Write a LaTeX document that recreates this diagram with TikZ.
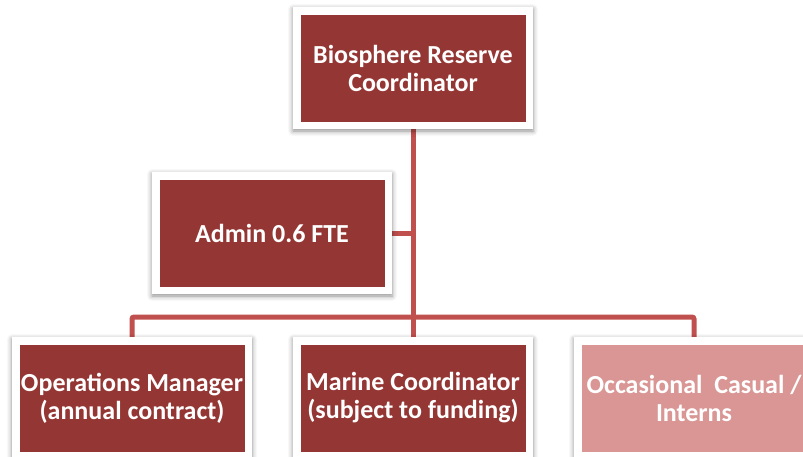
\documentclass[tikz,border=0pt]{standalone}
\usepackage{fontspec}
\setmainfont{Carlito}
\usetikzlibrary{backgrounds,shadows.blur}

\definecolor{brick}{HTML}{943634}
\definecolor{rose}{HTML}{D99694}
\definecolor{linkred}{HTML}{C0504D}

\tikzset{
  unit/.style={fill=white, minimum width=240pt, minimum height=122pt, inner sep=0pt,
    align=center, text=white, font=\fontsize{26}{28}\selectfont\bfseries,
    blur shadow={shadow xshift=0pt, shadow yshift=-2pt, shadow blur radius=5pt, shadow opacity=45},
    path picture={\fill[#1] ([shift={(7.5pt,7.5pt)}]path picture bounding box.south west)
      rectangle ([shift={(-7.5pt,-7.5pt)}]path picture bounding box.north east);}},
  unit/.default=brick,
  link/.style={linkred, line width=5pt, rounded corners=2pt}
}

\begin{document}
\begin{tikzpicture}[x=1pt,y=-1pt]
\useasboundingbox (0,0) rectangle (803,456);

%coordinator
\node[unit] (coord) at (413,68) {Biosphere Reserve\\Coordinator};
%admin
\node[unit] (admin) at (272,233) {Admin 0.6 FTE};
%staff row
\node[unit] (ops) at (132,398) {Operations Manager\\(annual contract)};
\node[unit] (marine) at (413,398) {Marine Coordinator\\(subject to funding)};
\node[unit=rose] (interns) at (694,398) {Occasional~ Casual /\\Interns};

%lines
\coordinate (bus) at (413,317);
\begin{scope}[on background layer]
\draw[link] (coord.south) -- (marine.north);
\draw[link] (admin.east) -- (admin.east -| coord.south);
\draw[link] (ops.north) |- (bus) -| (interns.north);
\end{scope}

\end{tikzpicture}
\end{document}
